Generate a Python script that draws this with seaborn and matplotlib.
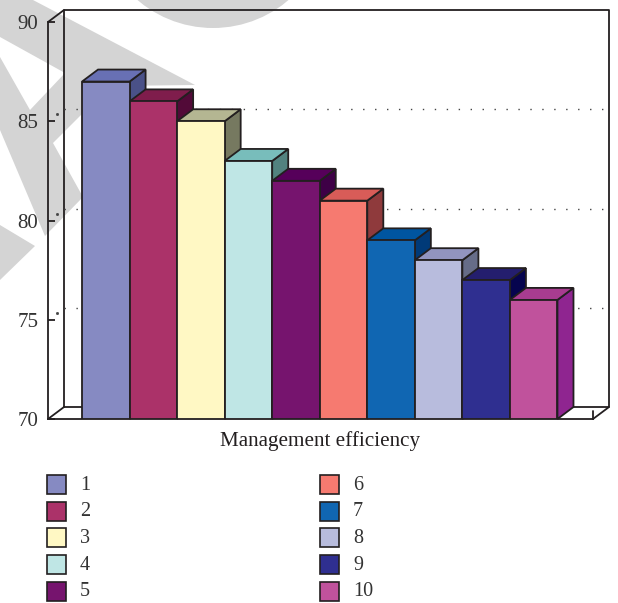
import numpy as np
import pandas as pd
import seaborn as sns
import matplotlib.pyplot as plt
from matplotlib.patches import Polygon, Rectangle, Circle

# Bar heights
groups = ["1", "2", "3", "4", "5", "6", "7", "8", "9", "10"]
values = [87, 86, 85, 83, 82, 81, 79, 78, 77, 76]
colors = ["#868ac2", "#ab3269", "#fff8c4", "#bfe6e5", "#76146e",
          "#f67a70", "#1066b2", "#b8bcdd", "#2f2f90", "#c0529c"]
top_colors = ["#6870b4", "#7f1d4c", "#b4b692", "#78bdbb", "#56005a",
              "#d85c58", "#0055a0", "#9294bf", "#241e6e", "#a83c90"]
side_colors = ["#4a5188", "#520a38", "#767960", "#52827f", "#3e0046",
               "#8f3a3c", "#003a78", "#666c88", "#06044e", "#8f2590"]
yticks = [70, 75, 80, 85, 90]
xlabel = "Management efficiency"
edge = "#231f20"

sns.set_theme(style="white")
plt.rcParams['font.family'] = ['Liberation Serif', 'DejaVu Serif']

W, H = 618, 603
fig = plt.figure(figsize=(W / 100, H / 100), dpi=100)

# Watermark shapes behind the chart, in pixels of the image
bg = fig.add_axes([0, 0, 1, 1], zorder=0)
bg.set_xlim(0, W)
bg.set_ylim(H, 0)
bg.axis("off")
grey = "#d4d4d4"
bg.add_patch(Polygon([(33, 0), (195, 85), (110, 86), (53, 143), (83, 197), (45, 236), (0, 130),
                      (0, 57), (30, 110), (65, 73), (0, 37), (0, 0)], color=grey, lw=0))
bg.add_patch(Polygon([(0, 225), (35, 246), (0, 280)], color=grey, lw=0))
bg.add_patch(Circle((213, -88), 116, color=grey, lw=0))

# Front plane of the box: x 48-593 px, y 22-419 px
left, right, top, bottom = 48, 593, 22, 419
ax = fig.add_axes([left / W, 1 - bottom / H, (right - left) / W, (bottom - top) / H], zorder=1)
ax.patch.set_alpha(0)

df = pd.DataFrame({"group": groups, "value": values})
sns.barplot(data=df, x="group", y="value", hue="group", palette=colors, width=1,
            legend=False, ax=ax, edgecolor=edge, linewidth=1.3, saturation=1, zorder=5)

step = 47.5
ax.set_xlim(-0.5 - (82 - left) / step, 9.5 + (right - 557.5) / step)
ax.set_ylim(70, 90)
dx = 16 / step
dy = 12 / ((bottom - top) / 20)
x0, x1 = ax.get_xlim()

# Back walls of the 3D box
line = dict(color=edge, lw=1.3, clip_on=False, zorder=2)
ax.plot([x0 + dx, x0 + dx, x1 + dx, x1 + dx, x0 + dx], [70 + dy, 90 + dy, 90 + dy, 70 + dy, 70 + dy], **line)
ax.plot([x0, x0 + dx], [70, 70 + dy], **line)
ax.plot([x0, x0 + dx], [90, 90 + dy], **line)
ax.plot([x1, x1 + dx], [70, 70 + dy], **line)
ax.plot([x1, x1], [70, 70.4], **line)

# Dotted gridlines on the back wall, one small dot on the side wall
for t in yticks[1:-1]:
    ax.plot([x0 + dx, x1 + dx], [t + dy, t + dy], color="#444444", lw=1, ls=(0, (1, 7.6)),
            clip_on=False, zorder=2)
    ax.plot([x0 + 0.56 * dx], [t + 0.58 * dy], color="#444444", marker="s", ms=1,
            clip_on=False, zorder=2)

# Top and side faces of each bar, drawn right to left so each one overlaps properly
for i in range(len(values) - 1, -1, -1):
    a, b = i - 0.5, i + 0.5
    v = values[i]
    ax.add_patch(Polygon([(b, 70), (b + dx, 70 + dy), (b + dx, v + dy), (b, v)], facecolor=side_colors[i],
                         edgecolor=edge, lw=1.3, clip_on=False, zorder=3 + 0.01 * (10 - i)))
    ax.add_patch(Polygon([(a, v), (a + dx, v + dy), (b + dx, v + dy), (b, v)], facecolor=top_colors[i],
                         edgecolor=edge, lw=1.3, clip_on=False, zorder=3.5 + 0.01 * (10 - i)))

ax.set_yticks(yticks)
ax.set_xticks([])
ax.set_ylabel("")
ax.set_xlabel(xlabel, fontsize=15.2, color=edge, labelpad=9)
ax.tick_params(axis="y", direction="in", length=5, width=1.3, color=edge, labelcolor="#333333",
               labelsize=15, pad=7, left=True)
for s in ["top", "right"]:
    ax.spines[s].set_visible(False)
for s in ["left", "bottom"]:
    ax.spines[s].set_color(edge)
    ax.spines[s].set_linewidth(1.3)
    ax.spines[s].set_zorder(6)

# Legend as two columns of swatches, laid out in image pixels
for i, name in enumerate(groups):
    col = i // 5
    row = i % 5
    sx = 47 + col * 273
    sy = 475 + row * 26.7
    bg.add_patch(Rectangle((sx, sy), 19, 19, facecolor=colors[i], edgecolor=edge, lw=1.2))
    bg.text(sx + 33, sy + 10, name, fontsize=14.5, color="#333333", va="center", ha="left")

fig.savefig("out.png", dpi=100)
